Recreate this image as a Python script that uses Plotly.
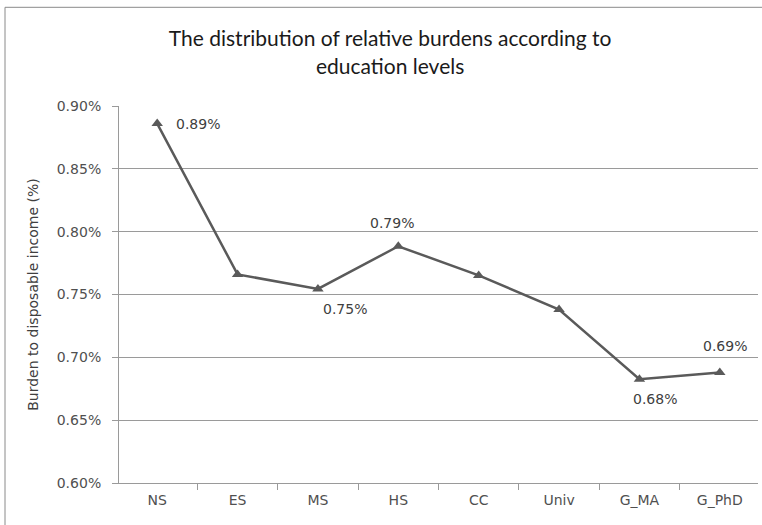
import plotly.graph_objects as go

# Education levels and relative burden (% of disposable income)
levels = ["NS", "ES", "MS", "HS", "CC", "Univ", "G_MA", "G_PhD"]
burden = [0.886, 0.766, 0.7544, 0.7884, 0.7652, 0.738, 0.6826, 0.6879]
labelled = ["NS", "MS", "HS", "G_MA", "G_PhD"]

y_ticks = [0.60, 0.65, 0.70, 0.75, 0.80, 0.85, 0.90]
y_tick_text = [f"{v:.2f}%" for v in y_ticks]

LINE = "#5a5a5a"
GRID = "#9a9a9a"
TEXT = "#404040"
FONT = "DejaVu Sans"
TICK_FONT = dict(family=FONT, size=14, color="#505050")

fig = go.Figure()
fig.add_trace(go.Scatter(
    x=levels, y=burden, mode="lines+markers",
    line=dict(color=LINE, width=2.5),
    marker=dict(symbol="triangle-up", size=10, color=LINE),
    hoverinfo="skip", showlegend=False,
))

# value labels placed around their points
offsets = {
    "NS": dict(xanchor="left", xshift=17, yshift=0),
    "MS": dict(xanchor="center", xshift=27, yshift=-20),
    "HS": dict(xanchor="center", xshift=-6, yshift=23),
    "G_MA": dict(xanchor="center", xshift=16, yshift=-20),
    "G_PhD": dict(xanchor="center", xshift=5, yshift=27),
}
for lvl, val in zip(levels, burden):
    if lvl in labelled:
        o = offsets[lvl]
        fig.add_annotation(
            x=lvl, y=val, text=f"{val:.2f}%", showarrow=False,
            xanchor=o["xanchor"], yanchor="middle",
            xshift=o["xshift"], yshift=o["yshift"],
            font=dict(family=FONT, size=14, color=TEXT),
        )

# outer chart frame
fig.add_shape(type="rect", xref="paper", yref="paper",
              x0=-0.1784, x1=1.2, y0=-0.3, y1=1.2618,
              line=dict(color="#8a8a8a", width=1), layer="below")

fig.update_layout(
    width=762, height=525,
    margin=dict(l=119, r=4, t=106, b=42),
    paper_bgcolor="white", plot_bgcolor="white",
    title=dict(
        text="The distribution of relative burdens according to<br>education levels",
        x=0.512, xanchor="center", y=0.912, yanchor="middle",
        font=dict(family="Lato", size=21, color="#1a1a1a"),
    ),
    xaxis=dict(
        type="category", tickson="boundaries", ticks="outside", ticklen=6,
        tickcolor=GRID, showline=True, linecolor=GRID, linewidth=1,
        showgrid=False, tickfont=TICK_FONT, fixedrange=True,
        ticklabelstandoff=4,
    ),
    yaxis=dict(
        range=[0.60, 0.90], tickmode="array", tickvals=y_ticks, ticktext=y_tick_text,
        ticks="outside", ticklen=6, tickcolor=GRID,
        showline=True, linecolor=GRID, linewidth=1,
        showgrid=True, gridcolor=GRID, gridwidth=1, zeroline=False,
        tickfont=TICK_FONT, ticklabelstandoff=8,
        title=dict(text="Burden to disposable income (%)",
                   font=dict(family=FONT, size=14, color=TEXT), standoff=14),
        fixedrange=True,
    ),
)

fig.write_html("out.html")
